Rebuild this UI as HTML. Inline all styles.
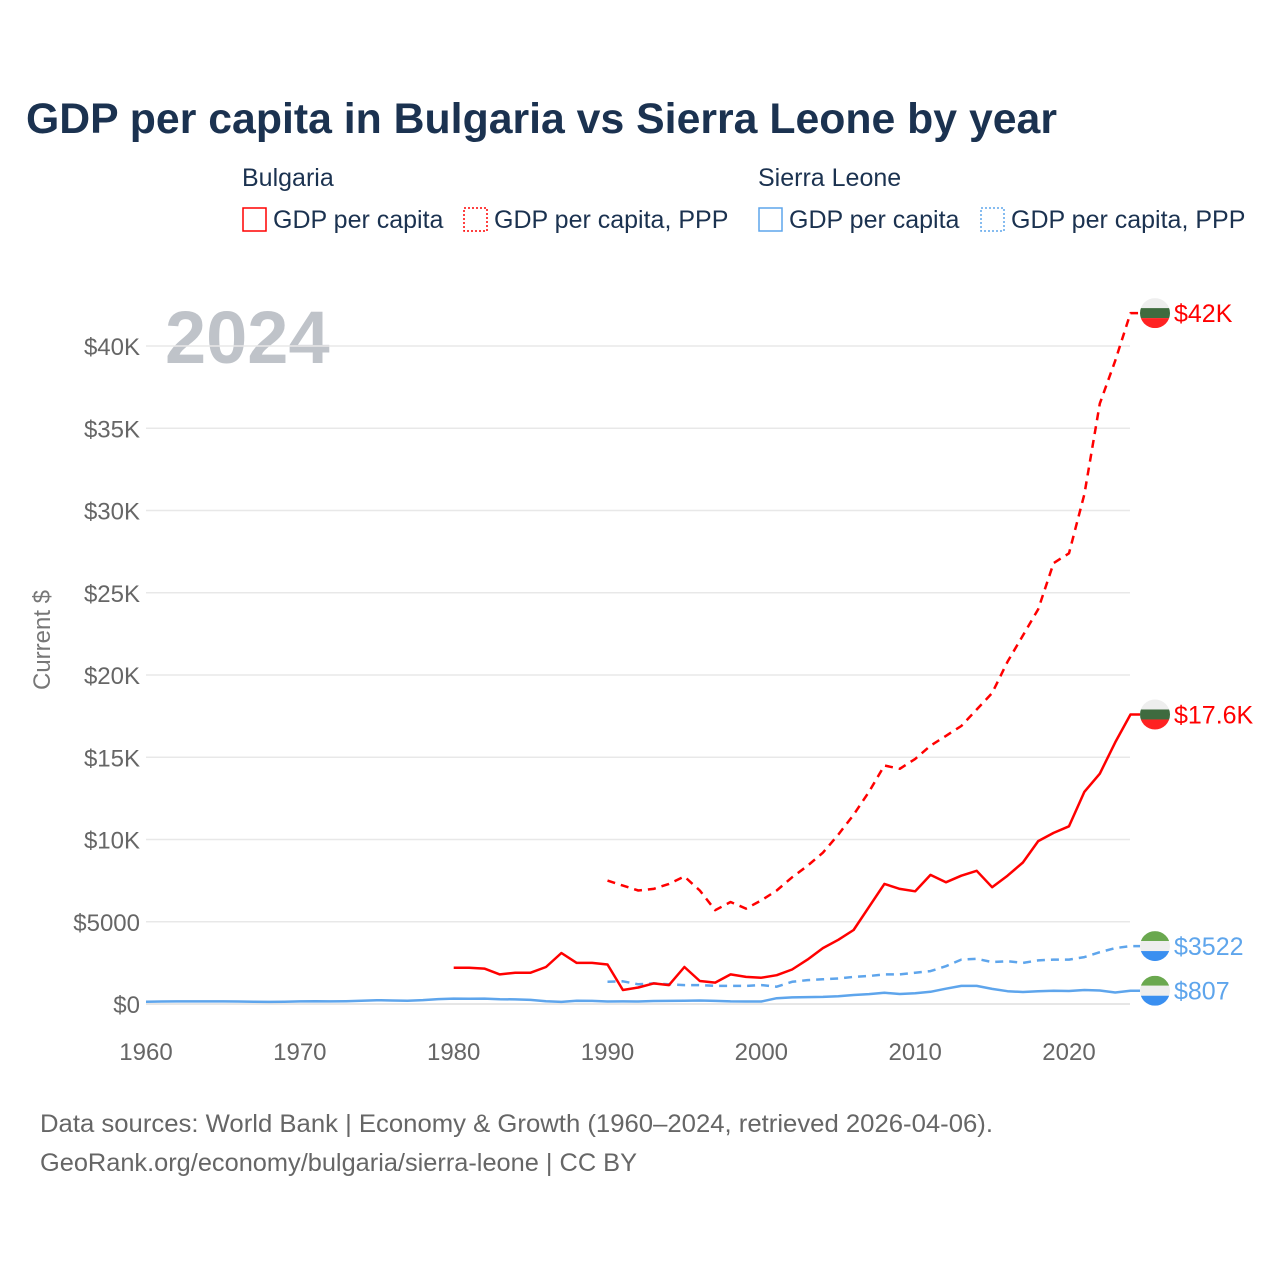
<!DOCTYPE html>
<html><head><meta charset="utf-8"><style>
body{margin:0;background:#fff;font-family:"Liberation Sans",sans-serif;}
svg text{font-family:"Liberation Sans",sans-serif;}
</style></head><body>
<svg width="1280" height="1280" xmlns="http://www.w3.org/2000/svg">
<text x="26" y="133" font-size="43" font-weight="bold" fill="#1b3250" textLength="1031" lengthAdjust="spacingAndGlyphs">GDP per capita in Bulgaria vs Sierra Leone by year</text>
<g font-size="25" fill="#1b3250">
<text x="242" y="186">Bulgaria</text>
<rect x="243" y="208" width="23" height="23" fill="none" stroke="#f00" stroke-width="1.5"/>
<text x="273" y="228">GDP per capita</text>
<rect x="464" y="208" width="23" height="23" fill="none" stroke="#f00" stroke-width="1.5" stroke-dasharray="2,2"/>
<text x="494" y="228">GDP per capita, PPP</text>
<text x="758" y="186">Sierra Leone</text>
<rect x="759" y="208" width="23" height="23" fill="none" stroke="#5ea5ec" stroke-width="1.5"/>
<text x="789" y="228">GDP per capita</text>
<rect x="981" y="208" width="23" height="23" fill="none" stroke="#5ea5ec" stroke-width="1.5" stroke-dasharray="2,2"/>
<text x="1011" y="228">GDP per capita, PPP</text>
</g>
<text x="165" y="363" font-size="74" font-weight="bold" fill="#bfc3c9">2024</text>
<text transform="translate(50,640) rotate(-90)" text-anchor="middle" font-size="24" fill="#777">Current $</text>
<g id="grid"></g><g id="series"></g><g id="ends"></g>
<text x="40" y="1132" font-size="25" fill="#666" textLength="953" lengthAdjust="spacingAndGlyphs">Data sources: World Bank | Economy &amp; Growth (1960–2024, retrieved 2026-04-06).</text>
<text x="40" y="1171" font-size="25" fill="#666" textLength="597" lengthAdjust="spacingAndGlyphs">GeoRank.org/economy/bulgaria/sierra-leone | CC BY</text>
</svg>
<script>
const yTicks=[0,5000,10000,15000,20000,25000,30000,35000,40000];
const yTickLabels=["$0","$5000","$10K","$15K","$20K","$25K","$30K","$35K","$40K"];
const xTicks=[1960,1970,1980,1990,2000,2010,2020];
const bgGdpStart=1980;
const bgGdp=[2200,2200,2150,1800,1900,1900,2250,3100,2500,2500,2400,850,1000,1250,1150,2250,1400,1300,1800,1650,1600,1750,2100,2700,3400,3900,4500,5900,7300,7000,6850,7850,7400,7800,8100,7100,7800,8600,9900,10400,10800,12900,14000,15900,17600];
const bgPppStart=1990;
const bgPpp=[7500,7200,6900,7000,7300,7750,6900,5700,6200,5800,6300,6900,7700,8400,9200,10300,11500,12900,14500,14300,14900,15700,16300,16900,17900,18900,20800,22400,24000,26800,27400,31000,36500,39100,42000];
const slGdpStart=1960;
const slGdp=[140,150,160,160,160,160,150,140,130,140,160,170,160,170,200,230,210,200,240,300,330,320,330,290,280,250,170,130,200,190,150,160,150,180,190,200,210,190,160,150,150,350,400,420,430,470,550,600,680,610,650,740,930,1100,1100,920,780,730,780,800,790,850,820,700,807];
const slPppStart=1990;
const slPpp=[1350,1380,1200,1250,1200,1150,1150,1100,1100,1100,1150,1050,1350,1450,1500,1550,1650,1700,1800,1800,1900,2000,2300,2700,2750,2550,2600,2500,2650,2700,2700,2850,3150,3400,3522];
const endLabels=["$42K","$17.6K","$3522","$807"];
const NS="http://www.w3.org/2000/svg";
const x=yr=>146+(yr-1960)*(1069-146)/60;
const y=v=>1004-v*(1004-346)/40000;
function mk(t,a,p){const e=document.createElementNS(NS,t);for(const k in a)e.setAttribute(k,a[k]);p.appendChild(e);return e;}
const grid=document.getElementById('grid');
yTicks.forEach((v,i)=>{
 const l=mk('line',{x1:146,x2:1130,y1:y(v),y2:y(v),stroke:v===0?'#ddd':'#e8e8e8','stroke-width':1.5},grid);
 
 
 const t=mk('text',{x:140,y:y(v)+9,'text-anchor':'end','font-size':24,fill:'#666'},grid);
 t.textContent=yTickLabels[i];
 
 
});
xTicks.forEach(v=>{
 const t=mk('text',{x:x(v),y:1060,'text-anchor':'middle','font-size':24,fill:'#666'},grid);
 t.textContent=v;
 
 
});
const sg=document.getElementById('series');
function line(start,vals,col,dash,name){
 let d=vals.map((v,i)=>(i?'L':'M')+x(start+i).toFixed(1)+','+y(v).toFixed(1)).join('');
 d+='L1140,'+y(vals[vals.length-1]).toFixed(1);
 const p=mk('path',{d:d,fill:'none',stroke:col,'stroke-width':2.5,'stroke-linejoin':'round'},sg);
 if(dash)p.setAttribute('stroke-dasharray','8,6');
 
 
}
line(slGdpStart,slGdp,'#5ea5ec',false,'line-sl-gdp');
line(slPppStart,slPpp,'#5ea5ec',true,'line-sl-ppp');
line(bgGdpStart,bgGdp,'#f00',false,'line-bg-gdp');
line(bgPppStart,bgPpp,'#f00',true,'line-bg-ppp');
const eg=document.getElementById('ends');
const ends=[[bgPpp[bgPpp.length-1],'#f00','bg'],[bgGdp[bgGdp.length-1],'#f00','bg'],[slPpp[slPpp.length-1],'#5ea5ec','sl'],[slGdp[slGdp.length-1],'#5ea5ec','sl']];
ends.forEach((e,i)=>{
 const cy=y(e[0]);
 const g=mk('g',{},eg);
 
 
 const cols=e[2]==='bg'?['#eee','#3f6b3f','#f22']:['#6aa84f','#eee','#3a8ff0'];
 const cid='c'+i;
 const cp=mk('clipPath',{id:cid},g);mk('circle',{cx:1155,cy:cy,r:15},cp);
 cols.forEach((c,j)=>mk('rect',{x:1140,y:cy-15+j*10,width:30,height:10,fill:c,'clip-path':'url(#'+cid+')'},g));
 const t=mk('text',{x:1174,y:cy+9,'font-size':25,fill:e[1]},g);
 t.textContent=endLabels[i];
});
</script>
</body></html>
